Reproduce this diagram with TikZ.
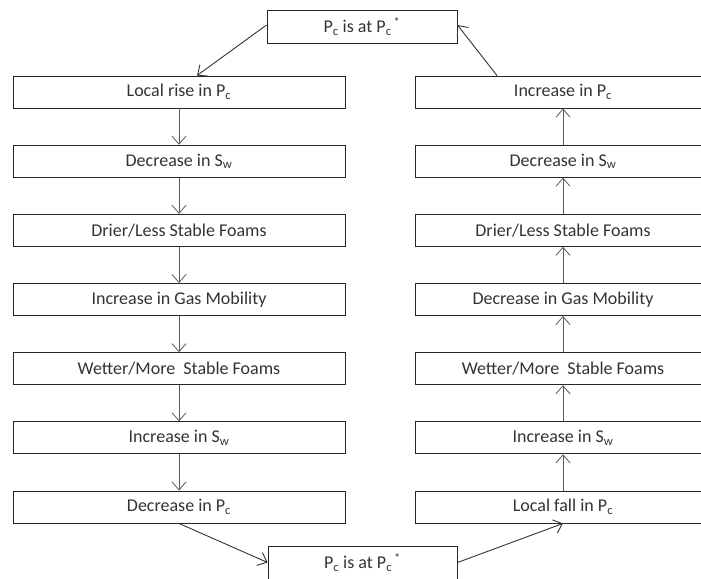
\documentclass[tikz,border=0pt]{standalone}
\usepackage{fontspec}
\setmainfont{Carlito}
\usetikzlibrary{arrows.meta,calc}
\newcommand{\Pc}{P\textsubscript{c}}
\newcommand{\Sw}{S\textsubscript{w}}
\begin{document}
\begin{tikzpicture}[x=1pt,y=-1pt,
  stepbox/.style={draw=black!85, line width=0.9pt, minimum height=32pt, inner sep=0pt,
    font=\fontsize{18}{21}\selectfont, text=black!80},
  lbox/.style={stepbox, minimum width=332pt},
  rbox/.style={stepbox, minimum width=296pt},
  varr/.style={draw=black!65, line width=0.8pt, -{Straight Barb[length=8pt,width=14pt]}},
  darr/.style={draw=black!80, line width=0.9pt, -{Straight Barb[length=8pt,width=14pt]}}]
\useasboundingbox (0,0) rectangle (701,578);
\clip (0,0) rectangle (701,578);

\node[stepbox, minimum width=190pt, minimum height=33pt] (T) at (362,26.5) {\Pc\ is at \Pc\textsuperscript{\,*}};
\node[stepbox, minimum width=189pt, minimum height=33pt] (B) at (362.5,562.5) {\Pc\ is at \Pc\textsuperscript{\,*}};

\node[lbox] (L1) at (179,92) {Local rise in \Pc};
\node[lbox] (L2) at (179,161.2) {Decrease in \Sw};
\node[lbox] (L3) at (179,230.3) {Drier/Less Stable Foams};
\node[lbox] (L4) at (179,299.5) {Increase in Gas Mobility};
\node[lbox] (L5) at (179,368.7) {Wetter/More\ \ Stable Foams};
\node[lbox] (L6) at (179,437.8) {Increase in \Sw};
\node[lbox] (L7) at (179,507) {Decrease in \Pc};

\node[rbox] (R1) at (563,92) {Increase in \Pc};
\node[rbox] (R2) at (563,161.2) {Decrease in \Sw};
\node[rbox] (R3) at (563,230.3) {Drier/Less Stable Foams};
\node[rbox] (R4) at (563,299.5) {Decrease in Gas Mobility};
\node[rbox] (R5) at (563,368.7) {Wetter/More\ \ Stable Foams};
\node[rbox] (R6) at (563,437.8) {Increase in \Sw};
\node[rbox] (R7) at (563,507) {Local fall in \Pc};

\foreach \a/\b in {L1/L2,L2/L3,L3/L4,L4/L5,L5/L6,L6/L7}
  \draw[varr] (\a.south) -- (\b.north);
\foreach \a/\b in {R7/R6,R6/R5,R5/R4,R4/R3,R3/R2,R2/R1}
  \draw[varr] (\a.north) -- (\b.south);

\draw[darr] ([yshift=1.5pt]T.west) -- ([xshift=18pt]L1.north);
\draw[darr] ([xshift=-66pt]R1.north) -- ([yshift=1.5pt]T.east);
\draw[darr] (L7.south) -- (B.west);
\draw[darr] (B.east) -- (R7.south);
\end{tikzpicture}
\end{document}
